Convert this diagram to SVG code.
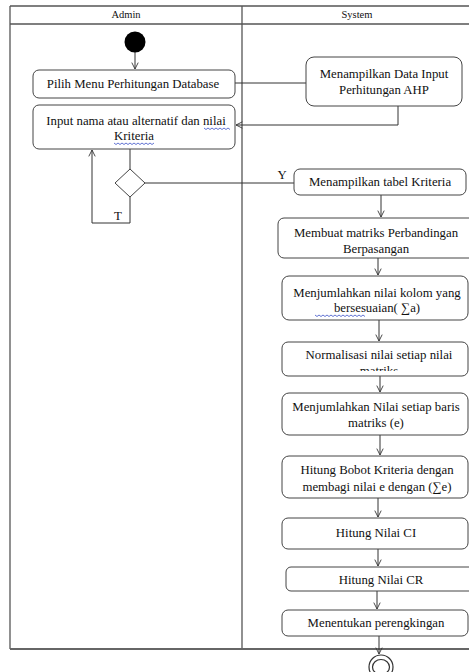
<svg xmlns="http://www.w3.org/2000/svg" width="469" height="672" viewBox="0 0 469 672">
  <style>
    .frame { fill: none; stroke: #555; stroke-width: 1.3; }
    .box { fill: #fff; stroke: #444; stroke-width: 1; }
    .edge { fill: none; stroke: #333; stroke-width: 1; }
    .lbl { font-family: "Liberation Serif", "Times New Roman", serif; font-size: 12.8px; fill: #111; text-anchor: middle; }
    .hdr { font-family: "Liberation Serif", "Times New Roman", serif; font-size: 10.5px; fill: #111; text-anchor: middle; }
    .squig { fill: none; stroke: #3a50c8; stroke-width: 0.8; }
  </style>
  <defs>
    <marker id="open" viewBox="0 0 10 10" refX="9" refY="5" markerWidth="8" markerHeight="8" orient="auto" markerUnits="userSpaceOnUse">
      <path d="M1,1 L9,5 L1,9" fill="none" stroke="#333" stroke-width="1.1"/>
    </marker>
    <clipPath id="clipBerp"><rect x="278" y="218" width="191" height="38"/></clipPath>
    <clipPath id="clipNorm"><rect x="282" y="342" width="187" height="29"/></clipPath>
    <clipPath id="clipCR"><rect x="286" y="567" width="183" height="20"/></clipPath>
  </defs>

  <rect width="469" height="672" fill="#fff"/>

  <!-- swimlane frame -->
  <g id="lanes">
    <line class="frame" x1="10" y1="6" x2="469" y2="6"/>
    <line class="frame" x1="10" y1="24" x2="469" y2="24"/>
    <line class="frame" x1="10" y1="6" x2="10" y2="649"/>
    <line class="frame" x1="242" y1="6" x2="242" y2="649"/>
    <line x1="10" y1="649" x2="469" y2="649" stroke="#666" stroke-width="2"/>
    <text class="hdr" x="126" y="18">Admin</text>
    <text class="hdr" x="357" y="18">System</text>
  </g>

  <!-- connectors -->
  <g id="connectors">
    <line class="edge" x1="135" y1="52" x2="135" y2="69" marker-end="url(#open)"/>
    <line class="edge" x1="235" y1="83" x2="306" y2="83"/>
    <polyline class="edge" points="398,106 398,125 236,125" marker-end="url(#open)"/>
    <line class="edge" x1="130" y1="149" x2="130" y2="169"/>
    <polyline class="edge" points="130,197 130,223 92,223 92,150" marker-end="url(#open)"/>
    <line class="edge" x1="145" y1="183" x2="294" y2="183"/>
    <line class="edge" x1="381" y1="195" x2="381" y2="217" marker-end="url(#open)"/>
    <line class="edge" x1="378" y1="258" x2="378" y2="275" marker-end="url(#open)"/>
    <line class="edge" x1="379" y1="320" x2="379" y2="341" marker-end="url(#open)"/>
    <line class="edge" x1="380" y1="376" x2="380" y2="392" marker-end="url(#open)"/>
    <line class="edge" x1="380" y1="435" x2="380" y2="455" marker-end="url(#open)"/>
    <line class="edge" x1="378" y1="498" x2="378" y2="517" marker-end="url(#open)"/>
    <line class="edge" x1="378" y1="549" x2="378" y2="566" marker-end="url(#open)"/>
    <line class="edge" x1="377" y1="591" x2="377" y2="609" marker-end="url(#open)"/>
    <line class="edge" x1="379" y1="636" x2="379" y2="654" marker-end="url(#open)"/>
    <text class="lbl" x="118" y="220" font-size="11">T</text>
    <text class="lbl" x="282" y="179" font-size="11">Y</text>
  </g>

  <g id="start">
    <circle cx="135" cy="42" r="10.5" fill="#000"/>
  </g>

  <g id="pilih-menu">
    <rect class="box" x="33" y="70" width="202" height="28" rx="6"/>
    <text class="lbl" x="133" y="88">Pilih Menu Perhitungan Database</text>
  </g>

  <g id="input-nama">
    <rect class="box" x="33" y="105" width="202" height="44" rx="6"/>
    <text class="lbl" x="136" y="125">Input nama atau alternatif dan nilai</text>
    <text class="lbl" x="134" y="140">Kriteria</text>
    <path class="squig" d="M204,128 l2,1.5 l2,-1.5 l2,1.5 l2,-1.5 l2,1.5 l2,-1.5 l2,1.5 l2,-1.5 l2,1.5 l2,-1.5 l2,1.5 l2,-1.5 l2,1.5"/>
    <path class="squig" d="M114,143 l2,1.5 l2,-1.5 l2,1.5 l2,-1.5 l2,1.5 l2,-1.5 l2,1.5 l2,-1.5 l2,1.5 l2,-1.5 l2,1.5 l2,-1.5 l2,1.5 l2,-1.5 l2,1.5 l2,-1.5 l2,1.5 l2,-1.5 l2,1.5 l2,-1.5"/>
  </g>

  <g id="decision">
    <polygon points="130,169 145,183 130,197 115,183" fill="#fff" stroke="#444" stroke-width="1"/>
  </g>

  <g id="data-input-ahp">
    <rect class="box" x="306" y="57" width="156" height="49" rx="8"/>
    <text class="lbl" x="384" y="78">Menampilkan Data Input</text>
    <text class="lbl" x="384" y="94">Perhitungan AHP</text>
  </g>

  <g id="tabel-kriteria">
    <rect class="box" x="294" y="169" width="172" height="26" rx="6"/>
    <text class="lbl" x="380" y="186">Menampilkan tabel Kriteria</text>
  </g>

  <g id="matriks-berpasangan">
    <rect class="box" x="278" y="218" width="200" height="40" rx="6"/>
    <g clip-path="url(#clipBerp)">
      <text class="lbl" x="376" y="237">Membuat matriks Perbandingan</text>
      <text class="lbl" x="376" y="253">Berpasangan</text>
    </g>
  </g>

  <g id="jumlah-kolom">
    <rect class="box" x="282" y="276" width="186" height="44" rx="7"/>
    <text class="lbl" x="377" y="297">Menjumlahkan nilai kolom yang</text>
    <text class="lbl" x="377" y="312">bersesuaian( ∑a)</text>
    <path class="squig" d="M315,315 l2,1.5 l2,-1.5 l2,1.5 l2,-1.5 l2,1.5 l2,-1.5 l2,1.5 l2,-1.5 l2,1.5 l2,-1.5 l2,1.5 l2,-1.5 l2,1.5 l2,-1.5 l2,1.5 l2,-1.5 l2,1.5 l2,-1.5 l2,1.5 l2,-1.5 l2,1.5 l2,-1.5 l2,1.5 l2,-1.5 l2,1.5"/>
  </g>

  <g id="normalisasi">
    <rect class="box" x="282" y="342" width="186" height="34" rx="6"/>
    <g clip-path="url(#clipNorm)">
      <text class="lbl" x="379" y="359">Normalisasi nilai setiap nilai</text>
      <text class="lbl" x="379" y="375">matriks</text>
    </g>
  </g>

  <g id="jumlah-baris">
    <rect class="box" x="282" y="393" width="186" height="42" rx="7"/>
    <text class="lbl" x="376" y="411">Menjumlahkan Nilai setiap baris</text>
    <text class="lbl" x="376" y="427">matriks (e)</text>
  </g>

  <g id="bobot-kriteria">
    <rect class="box" x="282" y="456" width="186" height="42" rx="7"/>
    <text class="lbl" x="377" y="474">Hitung Bobot Kriteria dengan</text>
    <text class="lbl" x="377" y="491">membagi nilai e dengan (∑e)</text>
  </g>

  <g id="nilai-ci">
    <rect class="box" x="282" y="518" width="186" height="31" rx="6"/>
    <text class="lbl" x="376" y="537">Hitung Nilai CI</text>
  </g>

  <g id="nilai-cr">
    <rect class="box" x="286" y="567" width="190" height="24" rx="5"/>
    <g clip-path="url(#clipCR)">
      <text class="lbl" x="381" y="584">Hitung Nilai CR</text>
    </g>
  </g>

  <g id="perengkingan">
    <rect class="box" x="282" y="610" width="186" height="26" rx="6"/>
    <text class="lbl" x="376" y="627">Menentukan perengkingan</text>
  </g>

  <g id="end">
    <circle cx="381" cy="667" r="12" fill="#fff" stroke="#333" stroke-width="1.2"/>
    <ellipse cx="381" cy="667" rx="8.5" ry="7.5" fill="#fff" stroke="#333" stroke-width="1.2"/>
  </g>
</svg>
